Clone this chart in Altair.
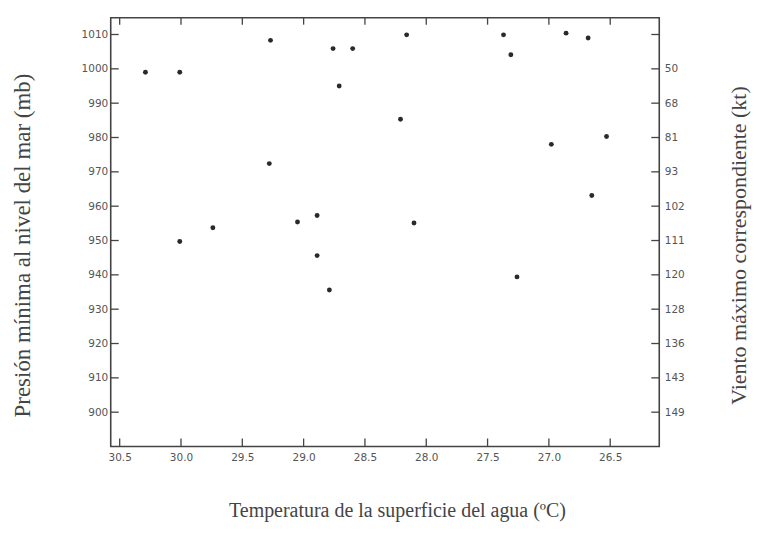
import altair as alt
import pandas as pd

# ---- data ----
temps = [30.29, 30.01, 29.27, 28.76, 28.60, 28.71, 29.28, 29.05, 28.89, 29.74,
         30.01, 28.89, 28.79, 28.16, 27.37, 27.31, 26.86, 26.68, 28.21, 26.98,
         26.53, 26.65, 28.10, 27.26]
pressures = [999.0, 999.0, 1008.3, 1005.9, 1005.9, 995.0, 972.4, 955.4, 957.3, 953.7,
             949.7, 945.6, 935.6, 1009.9, 1009.9, 1004.1, 1010.4, 1009.0, 985.3, 978.0,
             980.3, 963.1, 955.1, 939.4]

x_ticks = [30.5, 30.0, 29.5, 29.0, 28.5, 28.0, 27.5, 27.0, 26.5]
y_ticks = [900, 910, 920, 930, 940, 950, 960, 970, 980, 990, 1000, 1010]
wind_labels = ["149", "143", "136", "128", "120", "111", "102", "93", "81", "68", "50", ""]

x_title = "Temperatura de la superficie del agua (ºC)"
y_title = "Presión mínima al nivel del mar (mb)"
y2_title = "Viento máximo correspondiente (kt)"

W, H = 550, 430
LINE = "#444444"
LABEL = "#555555"
TITLE = "#444444"

pts = pd.DataFrame({"t": temps, "p": pressures})
xt = pd.DataFrame({"t": x_ticks})
yt = pd.DataFrame({"p": y_ticks})

xscale = alt.Scale(domain=[26.1, 30.573], reverse=True, nice=False, zero=False)
yscale = alt.Scale(domain=[890, 1014.9], nice=False, zero=False)

label_font = "DejaVu Sans"
title_font = "Liberation Serif"

expr = "''"
for v, l in zip(y_ticks, wind_labels):
    expr = f"datum.value == {v} ? '{l}' : ({expr})"

x_axis = alt.Axis(values=x_ticks, format=".1f", tickSize=0, domain=False, grid=False,
                  labelPadding=6, labelFont=label_font, labelFontSize=10.5, labelColor=LABEL,
                  title=x_title, titleFont=title_font, titleFontSize=20,
                  titleFontWeight="normal", titleColor=TITLE, titlePadding=38,
                  titleX=287)
y_axis = alt.Axis(values=y_ticks, format="d", tickSize=0, domain=False, grid=False,
                  labelPadding=3, labelFont=label_font, labelFontSize=10.5, labelColor=LABEL,
                  title=y_title, titleFont=title_font, titleFontSize=23,
                  titleFontWeight="normal", titleColor=TITLE, titlePadding=47,
                  titleY=228)
y2_axis = alt.Axis(orient="right", values=y_ticks, labelExpr=expr, tickSize=0,
                   domain=False, grid=False, labelPadding=5, labelFont=label_font,
                   labelFontSize=10.5, labelColor=LABEL,
                   title=y2_title, titleFont=title_font, titleFontSize=22,
                   titleFontWeight="normal", titleColor=TITLE, titlePadding=66,
                   titleAngle=270, titleY=228)

points = alt.Chart(pts).mark_circle(size=24, color="#2a2a2a", opacity=1).encode(
    x=alt.X("t:Q", scale=xscale, axis=x_axis),
    y=alt.Y("p:Q", scale=yscale, axis=y_axis),
)

left_ticks = alt.Chart(yt).mark_rule(color=LINE, strokeWidth=1.3).encode(
    y=alt.Y("p:Q", scale=yscale, axis=None),
    x=alt.value(0), x2=alt.value(8),
)
right_ticks = alt.Chart(yt).mark_rule(color=LINE, strokeWidth=1.3).encode(
    y=alt.Y("p:Q", scale=yscale, axis=y2_axis),
    x=alt.value(W - 8), x2=alt.value(W),
)
bottom_ticks = alt.Chart(xt).mark_rule(color=LINE, strokeWidth=1.3).encode(
    x=alt.X("t:Q", scale=xscale, axis=None),
    y=alt.value(H), y2=alt.value(H - 8),
)
top_ticks = alt.Chart(xt).mark_rule(color=LINE, strokeWidth=1.3).encode(
    x=alt.X("t:Q", scale=xscale, axis=None),
    y=alt.value(0), y2=alt.value(7),
)

chart = alt.layer(points, left_ticks, right_ticks, bottom_ticks, top_ticks).resolve_axis(
    x="independent", y="independent"
).properties(
    width=W, height=H,
    autosize=alt.AutoSizeParams(type="none"),
    padding={"left": 103, "top": 9, "right": 96, "bottom": 85},
    background="white",
).configure_view(stroke=LINE, strokeWidth=1.6)

chart.save("out.html", embed_options={"renderer": "svg", "actions": False})
